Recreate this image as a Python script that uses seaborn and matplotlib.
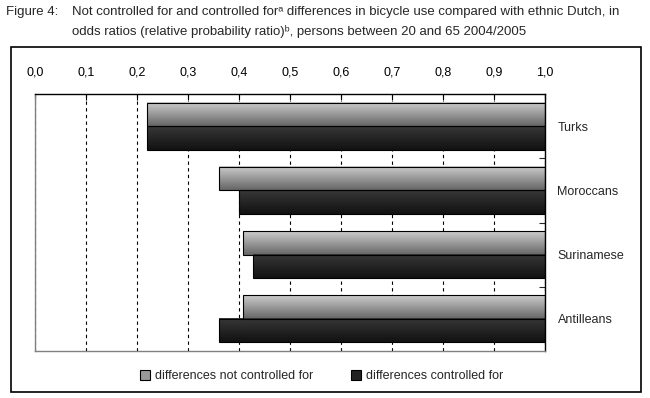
import numpy as np
import pandas as pd
import matplotlib
matplotlib.use("Agg")
import matplotlib.pyplot as plt
import seaborn as sns
from matplotlib.patches import Patch, Rectangle
from matplotlib.ticker import FixedLocator, FuncFormatter

# ── DATA ───────────────────────────────────────────────
groups = ["Turks", "Moroccans", "Surinamese", "Antilleans"]
not_controlled = [0.22, 0.36, 0.408, 0.408]
controlled = [0.22, 0.40, 0.428, 0.36]
series_names = ["differences not controlled for", "differences controlled for"]
tick_values = [0.0, 0.1, 0.2, 0.3, 0.4, 0.5, 0.6, 0.7, 0.8, 0.9, 1.0]

df = pd.DataFrame({
    "group": groups * 2,
    "series": [series_names[0]] * 4 + [series_names[1]] * 4,
    "odds": not_controlled + controlled,
})
# bars hang from 1.0 towards the odds ratio: draw the gap on a reversed axis
df["gap"] = 1 - df["odds"]

sns.set_style("white")
plt.rcParams["font.family"] = ["Liberation Sans", "DejaVu Sans"]
plt.rcParams["font.size"] = 9

fig = plt.figure(figsize=(6.5, 3.98), dpi=100)
ax = fig.add_axes([35 / 650, 1 - 351 / 398, 510 / 650, 257 / 398])

sns.barplot(data=df, x="gap", y="group", hue="series", order=groups,
            hue_order=series_names, palette=["#a0a0a0", "#222222"],
            orient="h", width=0.73, gap=0, legend=False, ax=ax,
            edgecolor="black", linewidth=0.8)

# gradient fill for each bar
grads = [(0.80, 0.40), (0.22, 0.07)]
for cont, (top, bot) in zip(ax.containers, grads):
    g = np.linspace(top, bot, 64).reshape(-1, 1)
    for bar in cont:
        x0, y0, w, h = bar.get_x(), bar.get_y(), bar.get_width(), bar.get_height()
        ax.imshow(g, cmap="gray", vmin=0, vmax=1, aspect="auto",
                  extent=[x0, x0 + w, y0 + h, y0], origin="upper",
                  interpolation="bilinear", zorder=2)
        bar.set_facecolor("none")
        bar.set_zorder(3)
ax.set_xlim(1, 0)
ax.set_ylim(3.5, -0.5)

# x axis on top, labels as odds ratio with decimal comma
ax.xaxis.set_ticks_position("top")
ax.xaxis.set_major_locator(FixedLocator([1 - t for t in tick_values]))
ax.xaxis.set_major_formatter(FuncFormatter(lambda v, p: f"{1 - v:.1f}".replace(".", ",")))
ax.tick_params(axis="x", direction="in", length=4, width=0.8, pad=11,
               labelsize=9, colors="black")
ax.set_xlabel("")
ax.grid(axis="x", color="black", linestyle=(0, (3, 3)), linewidth=0.8)
ax.set_axisbelow(True)

# categories on the right
ax.yaxis.tick_right()
ax.tick_params(axis="y", which="major", length=0, pad=9, labelsize=9)
ax.set_yticks(range(len(groups)))
ax.set_yticklabels(groups)
ax.set_yticks([0.5, 1.5, 2.5], minor=True)
ax.tick_params(axis="y", which="minor", direction="in", length=4, width=0.8, right=True)
ax.set_ylabel("")

for s in ["top", "right"]:
    ax.spines[s].set_color("black")
    ax.spines[s].set_linewidth(1)
for s in ["left", "bottom"]:
    ax.spines[s].set_color("#808080")
    ax.spines[s].set_linewidth(1)

# outer frame
fig.patches.append(Rectangle((11 / 650, 1 - 392 / 398), 630 / 650, 345 / 398,
                             transform=fig.transFigure, fill=False,
                             edgecolor="black", linewidth=1.2))

# title
fig.text(6 / 650, 1 - 12 / 398, "Figure 4:", fontsize=9.5, va="center")
fig.text(72 / 650, 1 - 12 / 398,
         "Not controlled for and controlled for\u1d43 differences in bicycle use compared with ethnic Dutch, in",
         fontsize=9.5, va="center")
fig.text(72 / 650, 1 - 31 / 398,
         "odds ratios (relative probability ratio)\u1d47, persons between 20 and 65 2004/2005",
         fontsize=9.5, va="center")

# legend
handles = [Patch(facecolor="#9a9a9a", edgecolor="black", linewidth=0.8),
           Patch(facecolor="#222222", edgecolor="black", linewidth=0.8)]
fig.legend(handles, series_names, loc="center", bbox_to_anchor=(0.495, 1 - 376 / 398),
           ncol=2, frameon=False, fontsize=9, handlelength=0.8, handleheight=0.8,
           handletextpad=0.4, columnspacing=3.0)

plt.savefig("out.png", dpi=100)
